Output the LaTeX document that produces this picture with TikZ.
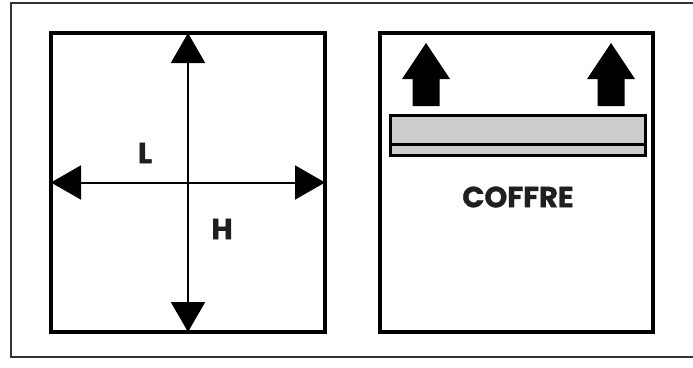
\documentclass[tikz,border=0pt]{standalone}
\usepackage{fontspec}
\setmainfont{Poppins}[BoldFeatures={FakeBold=1.2}]
\usetikzlibrary{arrows.meta}
\begin{document}
\begin{tikzpicture}[x=1pt,y=-1pt,
  frame/.style={draw=black!80, line width=2pt},
  panel/.style={draw=black, line width=3.5pt, fill=white, outer sep=0pt, inner sep=0pt, minimum width=274pt, minimum height=299pt},
  dim/.style={line width=2pt, {Triangle[length=30pt,width=34pt]}-{Triangle[length=30pt,width=34pt]}},
  bigarrow/.style={fill=black},
  lbl/.style={font=\bfseries\fontsize{29}{29}\selectfont, inner sep=0pt, text=black!88}]
\useasboundingbox (0,0) rectangle (693,367);
% outer frame (open on the right)
\draw[frame] (695,3) -- (11,3) -- (11,357) -- (695,357);
% left panel
\node[panel] (lbox) at (188,182.5) {};
\draw[dim] (lbox.north) -- (lbox.south);
\draw[dim] (lbox.west) -- (lbox.east);
\node[lbl] (L) at (145,153) {L};
\node[lbl] (H) at (222,229) {H};
% right panel
\node[panel, minimum width=273pt] (rbox) at (516.5,182.5) {};
\node[draw=black, line width=3pt, fill=black!20, minimum width=255pt, minimum height=40pt, inner sep=0pt, outer sep=0pt] (bar) at (517.5,135) {};
\coordinate (sl) at ([yshift=11pt]bar.south west);
\coordinate (sr) at ([yshift=11pt]bar.south east);
\draw[line width=3pt] (sl) -- (sr);
\fill[bigarrow] (426,43) -- (450,79) -- (439.5,79) -- (439.5,106) -- (412.5,106) -- (412.5,79) -- (402,79) -- cycle;
\fill[bigarrow] (611,43) -- (635,79) -- (624.5,79) -- (624.5,106) -- (597.5,106) -- (597.5,79) -- (587,79) -- cycle;
\node[lbl] (coffre) at (518,197) {COFFRE};
\end{tikzpicture}
\end{document}
